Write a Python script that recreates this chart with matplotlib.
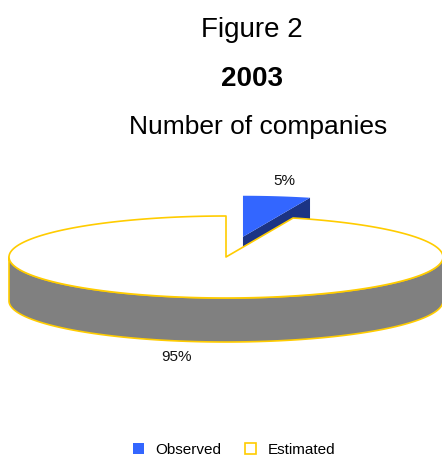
"""
Figure 2 - share of observed vs. estimated companies, 2003.
Drawn as a tilted 3-D pie built from plain polygons.
"""

import numpy as np
import matplotlib.pyplot as plt
from matplotlib.patches import Polygon, Patch

plt.rcParams["font.family"] = ["Liberation Sans", "DejaVu Sans"]

OUTPUT_PNG = "out.png"

LABELS = ["Observed", "Estimated"]
VALUES = [5, 95]
TOP_COLORS = ["#3366FF", "#FFFFFF"]
CUT_COLORS = ["#1C3484", "#808080"]
SIDE_COLOR = "#808080"
EDGE_COLOR = "#FFCC00"
EXPLODE = [0.5, 0.0]

# pie geometry in pixel units (y grows downward)
CX, CY = 226, 257
RX, RY = 217, 41
DEPTH = 44


def rim(theta, cx, cy, dz=0.0):
    t = np.radians(theta)
    return np.column_stack([cx + RX * np.cos(t), cy - RY * np.sin(t) + dz])


def arc(a0, a1, cx, cy, dz=0.0, n=200):
    return rim(np.linspace(a0, a1, n), cx, cy, dz)


fig = plt.figure(figsize=(4.42, 4.57), dpi=100)
ax = fig.add_axes([0, 0, 1, 1])
ax.set_xlim(0, 442)
ax.set_ylim(457, 0)
ax.axis("off")

total = sum(VALUES)
fractions = [v / total for v in VALUES]

# slices run clockwise from 12 o'clock
starts, ends = [], []
angle = 90.0
for f in fractions:
    starts.append(angle)
    ends.append(angle - f * 360)
    angle -= f * 360

# observed slice (pulled out, sits behind the big slice)
mid = (starts[0] + ends[0]) / 2
ox = CX + EXPLODE[0] * RX * np.cos(np.radians(mid))
oy = CY - EXPLODE[0] * RY * np.sin(np.radians(mid))
e = rim(ends[0], ox, oy)[0]
cut = np.array([[ox, oy], e, [e[0], e[1] + DEPTH], [ox, oy + DEPTH]])
ax.add_patch(Polygon(cut, closed=True, facecolor=CUT_COLORS[0], edgecolor="none"))
top = np.vstack([[ox, oy], arc(starts[0], ends[0], ox, oy)])
ax.add_patch(Polygon(top, closed=True, facecolor=TOP_COLORS[0], edgecolor="none"))

# estimated slice: front wall then top face
wall = np.vstack([arc(180, 360, CX, CY), arc(360, 180, CX, CY, DEPTH)])
ax.add_patch(Polygon(wall, closed=True, facecolor=SIDE_COLOR,
                     edgecolor=EDGE_COLOR, linewidth=1.2, joinstyle="round"))
top = np.vstack([[CX, CY], arc(starts[1], ends[1], CX, CY)])
ax.add_patch(Polygon(top, closed=True, facecolor=TOP_COLORS[1],
                     edgecolor=EDGE_COLOR, linewidth=1.2, joinstyle="round"))

# percentage labels
label_pos = [(284, 181), (177, 357)]
for f, (lx, ly) in zip(fractions, label_pos):
    ax.text(lx, ly, f"{f:.0%}", ha="center", va="center", fontsize=11, color="#111111")

fig.text(252 / 442, 1 - 37 / 457, "Figure 2", ha="center", va="baseline", fontsize=20)
fig.text(252 / 442, 1 - 86 / 457, "2003", ha="center", va="baseline",
         fontsize=20, fontweight="bold")
fig.text(258 / 442, 1 - 134 / 457, "Number of companies", ha="center",
         va="baseline", fontsize=19)

handles = [
    Patch(facecolor=TOP_COLORS[0], edgecolor="none", label=LABELS[0]),
    Patch(facecolor="white", edgecolor=EDGE_COLOR, linewidth=1.2, label=LABELS[1]),
]
fig.legend(handles=handles, loc="center", bbox_to_anchor=(234 / 442, 1 - 450 / 457),
           ncol=2, frameon=False, fontsize=11, handlelength=0.72, handleheight=0.72,
           handletextpad=0.75, columnspacing=1.6, borderpad=0)

fig.savefig(OUTPUT_PNG, dpi=100)
